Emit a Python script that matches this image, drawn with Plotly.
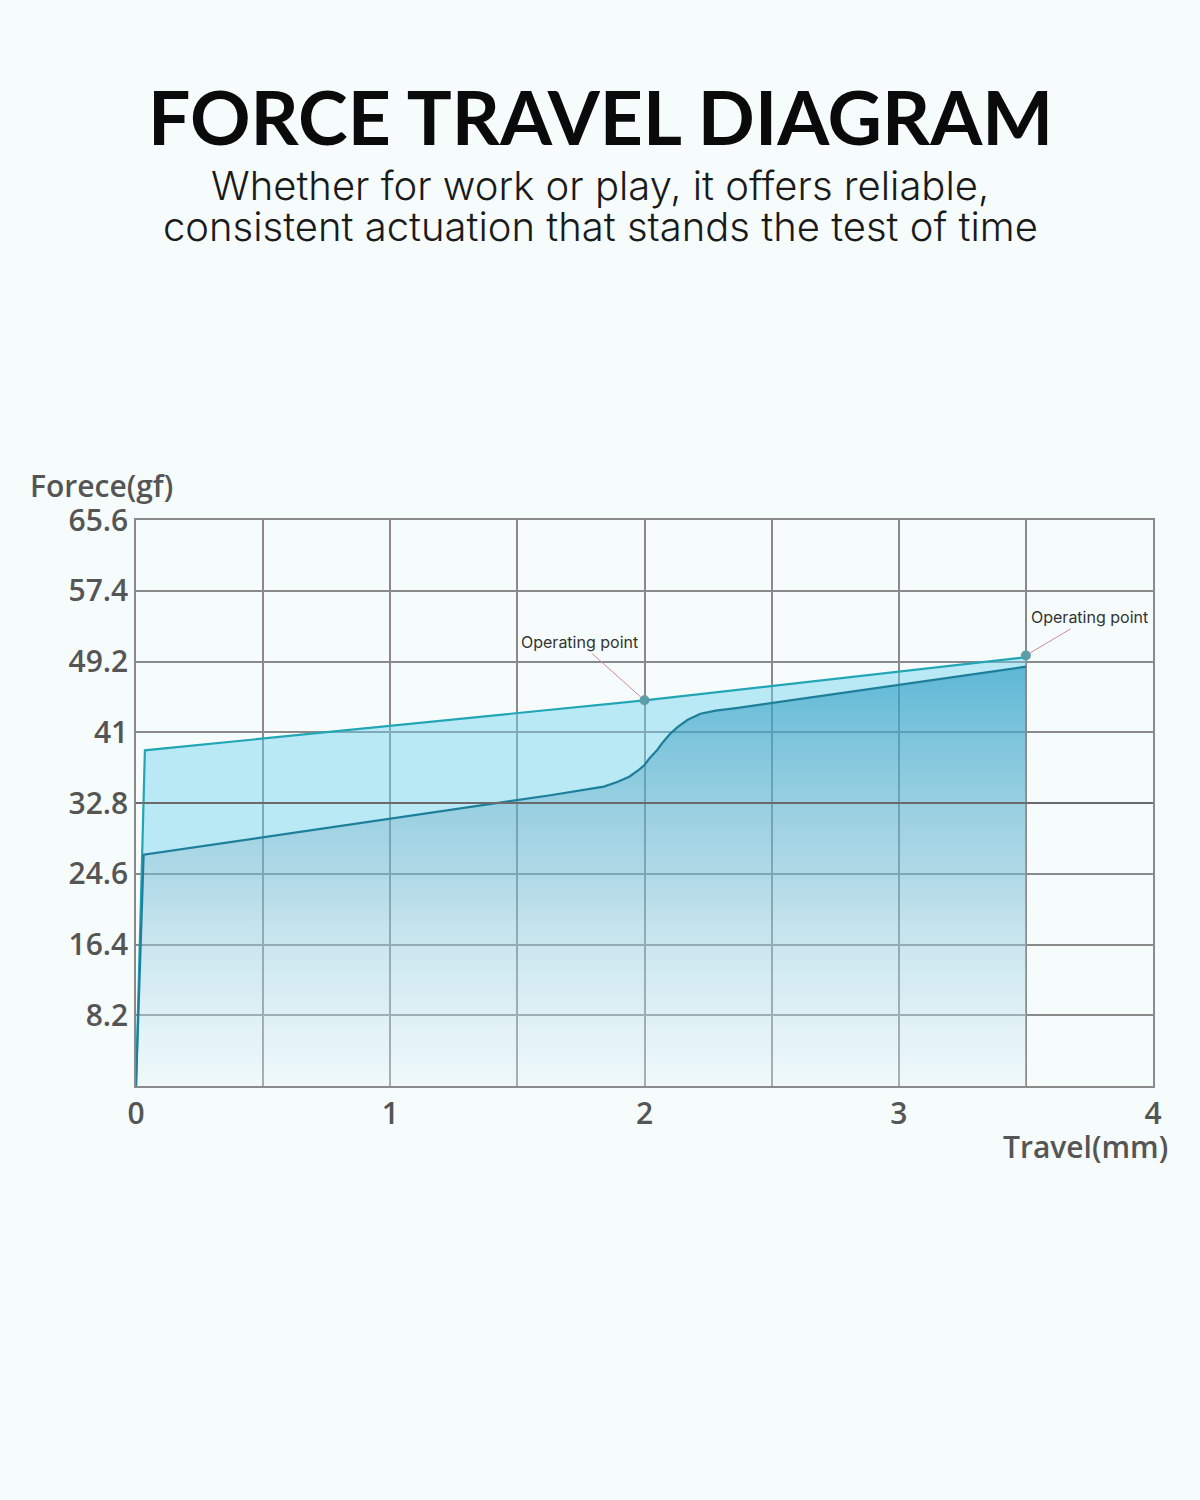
import plotly.graph_objects as go

# ---- data ----
upper_x = [0, 0.035, 2.0, 3.5]
upper_y = [0, 38.9, 44.7, 49.7]

lower_x = [0, 0.03, 1.63, 1.84, 1.89, 1.94, 1.98, 2.0, 2.02, 2.05, 2.07, 2.10,
           2.13, 2.17, 2.22, 2.28, 2.36, 3.5]
lower_y = [0, 26.8, 33.7, 34.7, 35.2, 35.85, 36.7, 37.2, 38.0, 38.95, 39.75, 40.8,
           41.6, 42.45, 43.15, 43.5, 43.8, 48.6]

op_x = [2.0, 3.5]
op_y = [44.7, 49.9]
op_label = "Operating point"

x_tickvals = [0, 0.5, 1, 1.5, 2, 2.5, 3, 3.5, 4]
x_ticktext = ["0", "", "1", "", "2", "", "3", "", "4"]
y_tickvals = [0, 8.2, 16.4, 24.6, 32.8, 41, 49.2, 57.4, 65.6]
y_ticktext = ["", "8.2", "16.4", "24.6", "32.8", "41", "49.2", "57.4", "65.6"]

title = "FORCE TRAVEL DIAGRAM"
subtitle_lines = ["Whether for work or play, it offers reliable,",
                  "consistent actuation that stands the test of time"]
y_title = "Forece(gf)"
x_title = "Travel(mm)"

BG = "#f6fcfb"
GRID = "#8a8a8a"
TXT = "#555555"
TICKFONT = dict(family="Open Sans, sans-serif", size=30, color=TXT, weight=600)

# plot area in page pixels
PL, PR, PT, PB = 136, 1153, 520, 1086


def px_to_paper(X, Y):
    return (X - PL) / (PR - PL), (PB - Y) / (PB - PT)


fig = go.Figure()

# lower filled area (gradient)
fig.add_trace(go.Scatter(
    x=lower_x, y=lower_y,
    mode="lines", line=dict(width=0, color="rgba(0,0,0,0)"),
    fill="tozeroy",
    fillgradient=dict(type="vertical", start=0, stop=max(lower_y),
                      colorscale=[[0, "rgba(225,242,248,0.35)"],
                                  [0.5, "rgba(120,190,215,0.55)"],
                                  [1, "rgba(40,160,200,0.74)"]]),
    hoverinfo="skip", showlegend=False))

# upper filled band (between the curves)
fig.add_trace(go.Scatter(
    x=upper_x, y=upper_y, mode="lines",
    line=dict(width=0, color="rgba(0,0,0,0)"),
    fill="tonexty", fillcolor="rgba(110,210,238,0.45)",
    hoverinfo="skip", showlegend=False))

# lines
fig.add_trace(go.Scatter(x=upper_x, y=upper_y, mode="lines",
                         line=dict(color="#22a6b6", width=2.2),
                         hoverinfo="skip", showlegend=False))
fig.add_trace(go.Scatter(x=lower_x, y=lower_y, mode="lines",
                         line=dict(color="#1e7f9b", width=2.2),
                         hoverinfo="skip", showlegend=False))

# operating points
fig.add_trace(go.Scatter(x=op_x, y=op_y, mode="markers",
                         marker=dict(color="#5b9ea8", size=10),
                         hoverinfo="skip", showlegend=False))

annotations = []
offsets = [(-65, -58), (64, -38)]
for (px, py), (ax, ay) in zip(zip(op_x, op_y), offsets):
    annotations.append(dict(
        x=px, y=py, xref="x", yref="y", text=op_label,
        showarrow=True, arrowhead=0, arrowwidth=1, arrowcolor="#d48a98",
        ax=ax, ay=ay, standoff=5,
        font=dict(family="Inter, Roboto, sans-serif", size=16, color="#333333")))

tx, ty = px_to_paper(600, 116)
annotations.append(dict(x=tx, y=ty, xref="paper", yref="paper", text="<b>" + title + "</b>",
                        showarrow=False,
                        font=dict(family="Lato, Inter, sans-serif", size=75, color="#0a0a0a"),
                        xanchor="center", yanchor="middle"))
for line, Y in zip(subtitle_lines, [185, 226]):
    sx, sy = px_to_paper(600, Y)
    annotations.append(dict(x=sx, y=sy, xref="paper", yref="paper", text=line,
                            showarrow=False,
                            font=dict(family="Inter, Lato, sans-serif", size=40,
                                      color="#1a1a1a", weight=300),
                            xanchor="center", yanchor="middle"))
yx, yy = px_to_paper(28, 485)
annotations.append(dict(x=yx, y=yy, xref="paper", yref="paper", text=y_title,
                        showarrow=False, font=TICKFONT, xanchor="left", yanchor="middle"))
xx, xy = px_to_paper(1170, 1146)
annotations.append(dict(x=xx, y=xy, xref="paper", yref="paper", text=x_title,
                        showarrow=False, font=TICKFONT, xanchor="right", yanchor="middle"))

fig.update_layout(
    width=1200, height=1500,
    paper_bgcolor=BG, plot_bgcolor=BG,
    margin=dict(l=PL, r=1200 - PR, t=PT, b=1500 - PB),
    annotations=annotations,
    shapes=[dict(type="line", xref="paper", yref="y", x0=0, x1=1,
                 y0=y_tickvals[4], y1=y_tickvals[4],
                 line=dict(color="#6a6a6a", width=2.2), layer="above")],
    xaxis=dict(range=[0, 4], tickvals=x_tickvals, ticktext=x_ticktext,
               showgrid=True, gridcolor=GRID, gridwidth=1.5, zeroline=False,
               showline=True, linecolor=GRID, linewidth=1.5, mirror=True,
               ticks="", ticklabelstandoff=0, tickfont=TICKFONT),
    yaxis=dict(range=[0, 65.6], tickvals=y_tickvals, ticktext=y_ticktext,
               showgrid=True, gridcolor=GRID, gridwidth=1.5, zeroline=False,
               showline=True, linecolor=GRID, linewidth=1.5, mirror=True,
               ticks="", ticklabelstandoff=0, tickfont=TICKFONT),
)

fig.write_html("out.html",
               config={"displayModeBar": False},
               post_script="document.body.style.margin='0';"
                           "document.body.style.background='" + BG + "';")
